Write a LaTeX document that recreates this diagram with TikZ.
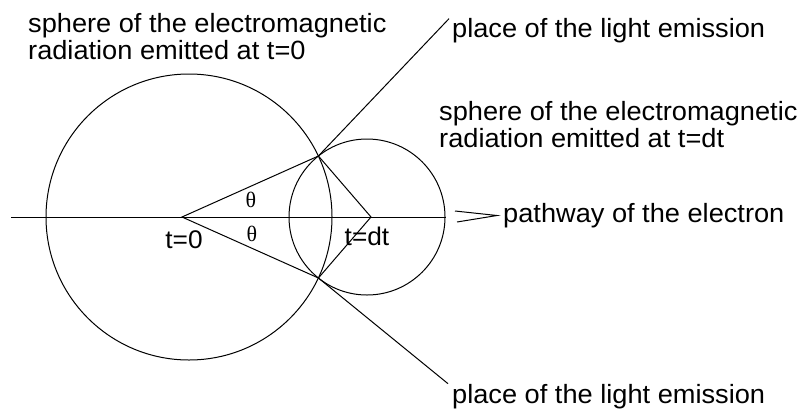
\documentclass[tikz,border=0pt]{standalone}
\usepackage{fontspec}
\setmainfont{Liberation Sans}[FakeStretch=1.03]
\newfontfamily\thetafont{Liberation Serif}
\begin{document}
\begin{tikzpicture}[x=1pt,y=-1pt,
  lbl/.style={inner sep=0pt,anchor=base west,font=\fontsize{26.4}{28}\selectfont},
  ctr/.style={inner sep=0pt,anchor=base,font=\fontsize{25.5}{28}\selectfont},
  th/.style={inner sep=0pt,font=\thetafont\fontsize{22}{22}\selectfont},
  ln/.style={line width=1pt}]
\useasboundingbox[fill=white] (0,0) rectangle (810,410);
% circles
\draw[ln] (189,217) circle[radius=143];
\draw[ln] (367,217) circle[radius=78];
% key points
\coordinate (O) at (182,217);
\coordinate (D) at (371,217);
\coordinate (A) at (318.4,156);
\coordinate (B) at (318.4,278);
\coordinate (L) at (11,217);
\coordinate (R) at (446,217);
\coordinate (a1) at (455,211);
\coordinate (a2) at (457,222);
\coordinate (tip) at (497,215.5);
% axis and arrow
\draw[ln] (L) -- (R);
\draw[ln] (a1) -- (tip) -- (a2);
% rays
\draw[ln] (O) -- (A) -- (D) -- (B) -- cycle;
% labels
\node[lbl] (s1a) at (28,32) {sphere of the electromagnetic};
\node[lbl] (s1b) at (28,59.5) {radiation emitted at t=0};
\node[lbl] (s2a) at (439,120) {sphere of the electromagnetic};
\node[lbl] (s2b) at (439,147) {radiation emitted at t=dt};
\node[lbl] (p1) at (452,37) {place of the light emission};
\node[lbl] (p2) at (452,403) {place of the light emission};
\node[lbl] (pw) at (503,222) {pathway of the electron};
\node[ctr] (t0) at (184,248) {t=0};
\node[ctr] (tdt) at (367,245) {t=dt};
\node[th] (th1) at (251,200) {θ};
\node[th] (th2) at (252,234) {θ};
% emission lines
\draw[ln] (A) -- ([shift={(-3,1)}]p1.north west);
\draw[ln] (B) -- ([shift={(-4,0)}]p2.north west);
\end{tikzpicture}
\end{document}
